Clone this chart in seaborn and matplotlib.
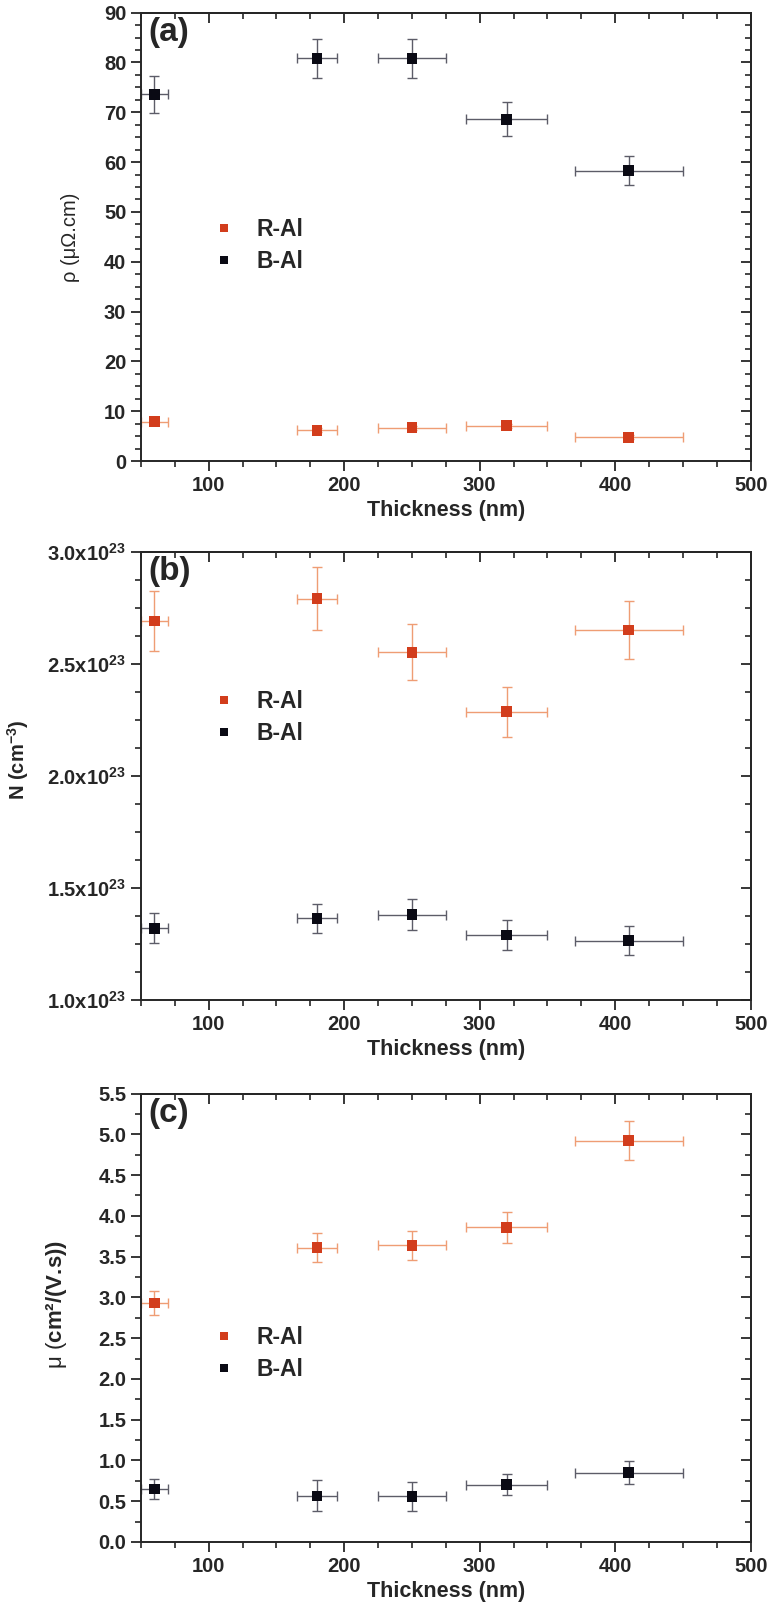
import matplotlib
matplotlib.use("Agg")
import matplotlib.pyplot as plt
from matplotlib.ticker import MultipleLocator, FuncFormatter
import pandas as pd
import seaborn as sns

# thickness (nm) and its uncertainty, same for both samples
thickness = [60, 180, 250, 320, 410]
thickness_err = [10, 15, 25, 30, 40]

# (a) resistivity, uOhm.cm
rho_r = [7.9, 6.2, 6.7, 7.1, 4.8]
rho_r_err = [0.4, 0.4, 0.4, 0.4, 0.4]
rho_b = [73.6, 80.8, 80.8, 68.6, 58.3]
rho_b_err = [3.7, 4.0, 4.0, 3.4, 2.9]

# (b) carrier density, in units of 1e23 cm^-3
n_r = [2.69, 2.79, 2.55, 2.285, 2.65]
n_r_err = [0.135, 0.14, 0.125, 0.11, 0.13]
n_b = [1.32, 1.365, 1.38, 1.29, 1.265]
n_b_err = [0.067, 0.065, 0.07, 0.065, 0.065]

# (c) mobility, cm2/(V.s)
mu_r = [2.93, 3.61, 3.64, 3.86, 4.92]
mu_r_err = [0.15, 0.18, 0.18, 0.19, 0.24]
mu_b = [0.65, 0.565, 0.56, 0.705, 0.85]
mu_b_err = [0.12, 0.19, 0.18, 0.134, 0.14]

samples = ["R-Al", "B-Al"]
marker_colors = {"R-Al": "#d23d1c", "B-Al": "#0a0a14"}
bar_colors = {"R-Al": "#ef9d74", "B-Al": "#5c5c68"}

sns.set_theme(style="ticks")
plt.rcParams["font.family"] = ["Liberation Sans", "DejaVu Sans"]
plt.rcParams["mathtext.fontset"] = "custom"
plt.rcParams["mathtext.rm"] = "Liberation Sans"
plt.rcParams["mathtext.bf"] = "Liberation Sans:bold"
plt.rcParams["mathtext.it"] = "Liberation Sans:bold:italic"
plt.rcParams["mathtext.default"] = "bf"

fig = plt.figure(figsize=(7.74, 16.16), dpi=100)
L, W, H = 0.182, 0.788, 0.2775
bottoms = [0.7147, 0.3812, 0.0458]

panels = [
    dict(tag="(a)", r=rho_r, re=rho_r_err, b=rho_b, be=rho_b_err, ylim=(0, 90),
         major=10, minor=2.5, ylabel="ρ (μΩ.cm)", yweight="normal", ysize=14.5,
         lab=(-0.115, 0.5), leg=0.48, fmt=lambda v, p: f"{v:.0f}"),
    dict(tag="(b)", r=n_r, re=n_r_err, b=n_b, be=n_b_err, ylim=(1.0, 3.0),
         major=0.5, minor=0.125, ylabel="N (cm$^{-3}$)", yweight="bold", ysize=14.5,
         lab=(-0.202, 0.535), leg=0.63, fmt=lambda v, p: f"{v:.1f}x10$^{{23}}$"),
    dict(tag="(c)", r=mu_r, re=mu_r_err, b=mu_b, be=mu_b_err, ylim=(0, 5.5),
         major=0.5, minor=0.25, ylabel=r"$\mathrm{μ\ (}$cm²/(V.s))", yweight="bold",
         ysize=16, lab=(-0.138, 0.53), leg=0.42, fmt=lambda v, p: f"{v:.1f}"),
]

for bot, pn in zip(bottoms, panels):
    ax = fig.add_axes([L, bot, W, H])
    df = pd.DataFrame({
        "thickness": thickness * 2,
        "xerr": thickness_err * 2,
        "value": pn["r"] + pn["b"],
        "yerr": pn["re"] + pn["be"],
        "sample": ["R-Al"] * 5 + ["B-Al"] * 5,
    })
    for s in samples:
        sub = df[df["sample"] == s]
        ax.errorbar(sub["thickness"], sub["value"], xerr=sub["xerr"], yerr=sub["yerr"],
                    fmt="none", ecolor=bar_colors[s], elinewidth=1.0, capsize=3.6,
                    capthick=1.0, zorder=2)
    sns.scatterplot(data=df, x="thickness", y="value", hue="sample", hue_order=samples,
                    palette=marker_colors, marker="s", s=60, linewidth=0, ax=ax, zorder=3)

    ax.set_xlim(50, 500)
    ax.set_ylim(*pn["ylim"])
    ax.xaxis.set_major_locator(MultipleLocator(100))
    ax.xaxis.set_minor_locator(MultipleLocator(25))
    ax.yaxis.set_major_locator(MultipleLocator(pn["major"]))
    ax.yaxis.set_minor_locator(MultipleLocator(pn["minor"]))
    ax.yaxis.set_major_formatter(FuncFormatter(pn["fmt"]))
    ax.tick_params(which="major", direction="out", length=7, width=1.3, labelsize=14.5)
    ax.tick_params(which="minor", direction="out", length=4, width=1.2)
    for lab in ax.get_xticklabels() + ax.get_yticklabels():
        lab.set_fontweight("bold")
    for sp in ax.spines.values():
        sp.set_linewidth(1.4)
        sp.set_visible(True)

    # mirrored ticks pointing inward on top and right
    top = ax.secondary_xaxis("top")
    top.xaxis.set_major_locator(MultipleLocator(100))
    top.xaxis.set_minor_locator(MultipleLocator(25))
    top.tick_params(which="major", direction="in", length=7, width=1.3, labeltop=False)
    top.tick_params(which="minor", direction="in", length=4, width=1.2)
    top.spines["top"].set_linewidth(1.4)
    right = ax.secondary_yaxis("right")
    right.yaxis.set_major_locator(MultipleLocator(pn["major"]))
    right.yaxis.set_minor_locator(MultipleLocator(pn["minor"]))
    right.tick_params(which="major", direction="in", length=7, width=1.3, labelright=False)
    right.tick_params(which="minor", direction="in", length=4, width=1.2)
    right.spines["right"].set_linewidth(1.4)

    ax.set_xlabel("Thickness (nm)", fontsize=15.5, fontweight="bold")
    ax.set_ylabel(pn["ylabel"], fontsize=pn["ysize"], fontweight=pn["yweight"], va="center")
    ax.yaxis.set_label_coords(*pn["lab"])
    ax.text(0.012, 0.99, pn["tag"], transform=ax.transAxes, fontsize=24,
            fontweight="bold", va="top", ha="left")

    ax.legend(loc="center left", bbox_to_anchor=(0.084, pn["leg"]), frameon=False,
              prop={"size": 16.5, "weight": "bold"}, handlelength=1.0,
              handletextpad=0.9, labelspacing=0.4, markerscale=0.8)

fig.savefig("out.png", dpi=100)
